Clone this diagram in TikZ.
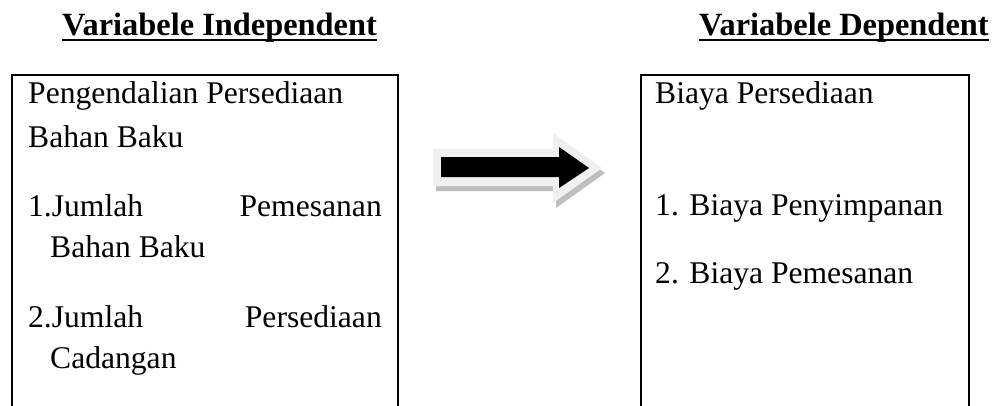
\documentclass[tikz,border=0pt]{standalone}
\usepackage{fontspec}
\setmainfont{Liberation Serif}
\begin{document}
\begin{tikzpicture}[x=1bp,y=1bp,
  txt/.style={anchor=base west,inner sep=0pt,font=\fontsize{31.6bp}{38bp}\selectfont},
  txtr/.style={anchor=base east,inner sep=0pt,font=\fontsize{31.6bp}{38bp}\selectfont},
  head/.style={anchor=base west,inner sep=0pt,font=\fontsize{32.4bp}{38bp}\selectfont\bfseries},
  boxline/.style={line width=1.6bp},
  uline/.style={line width=2bp}]
\useasboundingbox (0,0) rectangle (995,405);
% headings
\node[head] (h1) at (62,370) {Variabele Independent};
\node[head] (h2) at (699,370) {Variabele Dependent};
\draw[uline] ([yshift=-5bp]h1.base west) -- ([yshift=-5bp]h1.base east);
\draw[uline] ([yshift=-5bp]h2.base west) -- ([yshift=-5bp]h2.base east);
% boxes (open at bottom)
\draw[boxline] (12,-2) -- (12,330) -- (398,330) -- (398,-2);
\draw[boxline] (641,-2) -- (641,330) -- (969,330) -- (969,-2);
% left text
\node[txt] (l1) at (28,302) {Pengendalian Persediaan};
\node[txt] (l2) at (28,258) {Bahan Baku};
\node[txt] (l3a) at (28,189) {1.Jumlah};
\node[txtr] (l3b) at (382,189) {Pemesanan};
\node[txt] (l4) at (50,148) {Bahan Baku};
\node[txt] (l5a) at (28,78) {2.Jumlah};
\node[txtr] (l5b) at (382,78) {Persediaan};
\node[txt] (l6) at (50,37) {Cadangan};
% right text
\node[txt] (r1) at (655,302) {Biaya Persediaan};
\node[txt] (r2) at (655,190) {1. Biaya Penyimpanan};
\node[txt] (r3) at (655,122) {2. Biaya Pemesanan};
% block arrow
\fill[black!25] (436,251) -- (556,251) -- (556,267) -- (605,232) -- (556,197) -- (556,214) -- (436,214) -- cycle;
\fill[black!6] (433,256) -- (553,256) -- (553,272) -- (602,237) -- (553,202) -- (553,219) -- (433,219) -- cycle;
\fill[black] (441,248) -- (559,248) -- (559,258) -- (589,237) -- (559,217) -- (559,228) -- (441,228) -- cycle;
\end{tikzpicture}
\end{document}
